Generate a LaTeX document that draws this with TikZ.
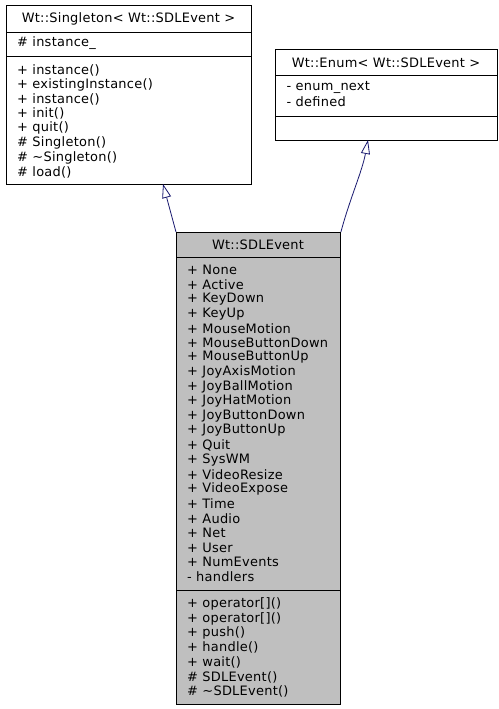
\documentclass[tikz,border=0pt]{standalone}
\usepackage{fontspec}
\setmainfont{DejaVu Sans}[LetterSpace=2]
\usetikzlibrary{arrows.meta}
\definecolor{edgeblue}{HTML}{191970}
\definecolor{boxgray}{HTML}{BFBFBF}
\tikzset{
  classbox/.style={draw=black, line width=0.9bp, rectangle, inner sep=0pt, anchor=north west},
  sepline/.style={draw=black, line width=0.9bp},
  txt/.style={anchor=west, inner sep=0pt, font=\fontsize{13}{15}\selectfont},
  ttl/.style={anchor=center, inner sep=0pt, font=\fontsize{13}{15}\selectfont},
  inherit/.style={draw=edgeblue, line width=0.8bp, -{Triangle[open, length=14bp, width=9bp, fill=white]}},
}
\begin{document}
\begin{tikzpicture}[x=1bp, y=-1bp]
\useasboundingbox (0,0) rectangle (499,709);
\fill[white] (0,0) rectangle (499,709);

% Singleton
\node[classbox, minimum width=245bp, minimum height=179bp] (single) at (6,5) {};
\draw[sepline] (6,32) -- (251,32);
\draw[sepline] (6,56) -- (251,56);
\node[ttl] (st) at (128.5,19) {Wt::Singleton< Wt::SDLEvent >};
\node[txt] (s0) at (17,43.5) {\# instance\_};
\foreach \t [count=\i from 0] in {+ instance(), + existingInstance(), + instance(), + init(), + quit(), \# Singleton(), \# \textasciitilde Singleton(), \# load()}
  \node[txt] (sm\i) at (17,70+14.6*\i) {\t};

% Enum
\node[classbox, minimum width=222bp, minimum height=91bp] (enum) at (275,49) {};
\draw[sepline] (275,75) -- (497,75);
\draw[sepline] (275,116) -- (497,116);
\node[ttl] (et) at (386,62.5) {Wt::Enum< Wt::SDLEvent >};
\node[txt] (e0) at (286.5,87.5) {- enum\_next};
\node[txt] (e1) at (286.5,102.1) {- defined};

% SDLEvent
\node[classbox, fill=boxgray, minimum width=164bp, minimum height=472bp] (sdl) at (176,232) {};
\draw[sepline] (176,257) -- (340,257);
\draw[sepline] (176,590) -- (340,590);
\node[ttl] (dt) at (258,244.5) {Wt::SDLEvent};
\foreach \t [count=\i from 0] in {+ None, + Active, + KeyDown, + KeyUp, + MouseMotion, + MouseButtonDown, + MouseButtonUp, + JoyAxisMotion, + JoyBallMotion, + JoyHatMotion, + JoyButtonDown, + JoyButtonUp, + Quit, + SysWM, + VideoResize, + VideoExpose, + Time, + Audio, + Net, + User, + NumEvents, - handlers}
  \node[txt] (da\i) at (187,270+14.6*\i) {\t};
\foreach \t [count=\i from 0] in {+ operator[](), + operator[](), + push(), + handle(), + wait(), \# SDLEvent(), \# \textasciitilde SDLEvent()}
  \node[txt] (dm\i) at (187,604+14.6*\i) {\t};

% inheritance
\coordinate (stip) at (163,184);
\coordinate (etip) at (368,140);
\draw[inherit] (sdl.north west) -- (stip);
\draw[inherit] (sdl.north east) .. controls (350,198) and (362,172) .. (etip);
\end{tikzpicture}
\end{document}
